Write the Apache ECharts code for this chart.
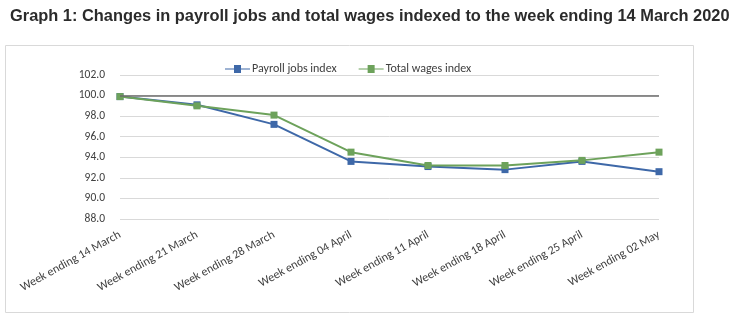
<!DOCTYPE html>
<html><head><meta charset="utf-8">
<script src="https://cdn.jsdelivr.net/npm/echarts@6/dist/echarts.min.js"></script>
<style>html,body{margin:0;padding:0;background:#fff}#c{width:735px;height:327px}</style>
</head><body><div id="c"></div>
<script>
const categories = ["Week ending 14 March","Week ending 21 March","Week ending 28 March","Week ending 04 April","Week ending 11 April","Week ending 18 April","Week ending 25 April","Week ending 02 May"];
const payrollJobs = [99.9, 99.1, 97.2, 93.6, 93.1, 92.8, 93.6, 92.6];
const totalWages = [99.9, 99.0, 98.1, 94.5, 93.2, 93.2, 93.7, 94.5];
const yTicks = [88, 102, 2];
const title = "Graph 1: Changes in payroll jobs and total wages indexed to the week ending 14 March 2020";

const chart = echarts.init(document.getElementById('c'), null, {renderer:'canvas'});
const mk = (name, data, color, z) => ({
  name, type:'line', data, symbol:'rect', symbolSize:7, showSymbol:true,
  lineStyle:{color, width:2}, itemStyle:{color}, z,
  emphasis:{disabled:true}
});
const lblFont = 'Carlito, Lato, Liberation Sans';
chart.setOption({
  animation:false,
  title:{text:title, left:5, top:3, textStyle:{fontFamily:'Liberation Sans, Arial', fontWeight:'bold', fontSize:16.4, color:'#2b2b2b'}},
  graphic:[{type:'rect', shape:{x:5.5, y:45.5, width:688, height:267}, style:{fill:'none', stroke:'#d9d9d9', lineWidth:1}, silent:true, z:-1}],
  legend:{top:58, left:220, itemWidth:25, itemHeight:8, itemGap:22,
    textStyle:{fontFamily:lblFont, fontSize:12, color:'#404040', padding:[0,0,0,-3]},
    icon:'path://M0,3.5 L9,3.5 L9,0 L16,0 L16,3.5 L25,3.5 L25,4.5 L16,4.5 L16,8 L9,8 L9,4.5 L0,4.5 Z',
    data:['Payroll jobs index','Total wages index']},
  grid:{left:120, right:76, top:75, bottom:108},
  xAxis:{type:'category', data:categories, boundaryGap:false,
    axisLine:{show:false}, axisTick:{show:false},
    axisLabel:{rotate:29, interval:0, margin:15, fontFamily:lblFont, fontSize:12, color:'#404040'}},
  yAxis:{type:'value', min:yTicks[0], max:yTicks[1], interval:yTicks[2],
    axisLabel:{formatter:v=>v.toFixed(1), margin:15, fontFamily:lblFont, fontSize:11.5, color:'#404040'},
    splitLine:{lineStyle:{color:'#d9d9d9', width:1}}, axisLine:{show:false}, axisTick:{show:false}},
  series:[
    Object.assign(mk('Payroll jobs index', payrollJobs, '#3E68A8', 3), {
      markLine:{silent:true, symbol:'none', label:{show:false}, lineStyle:{color:'#6b6b6b', width:1.5, type:'solid'}, data:[{yAxis:100}]}
    }),
    mk('Total wages index', totalWages, '#6DA25B', 4)
  ]
});
</script></body></html>
